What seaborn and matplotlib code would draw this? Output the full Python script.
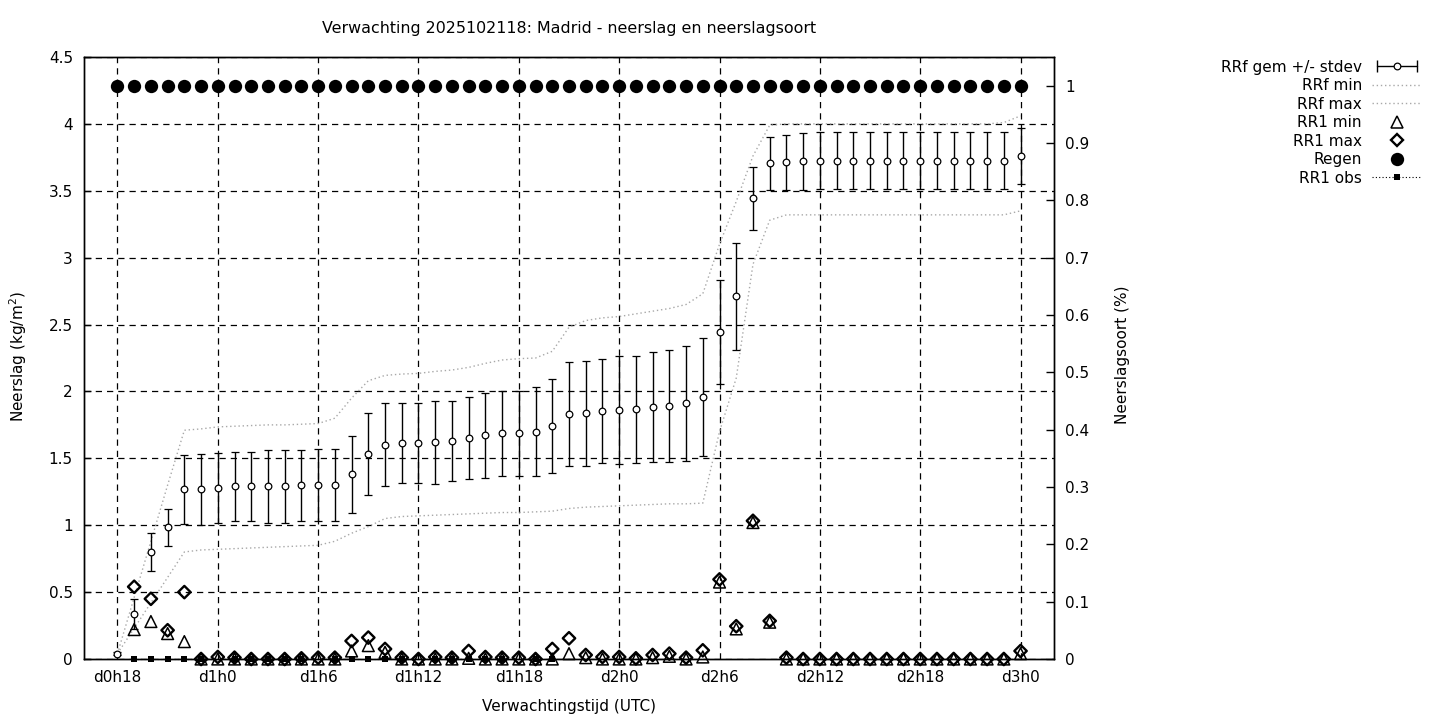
import matplotlib
matplotlib.use('Agg')
import matplotlib.pyplot as plt
from matplotlib.lines import Line2D
from matplotlib.legend_handler import HandlerLine2D, HandlerTuple
import numpy as np
import pandas as pd
import seaborn as sns

nan = np.nan

# forecast hours, d0h18 .. d3h0
hours = list(range(18, 73))

# ensemble mean and stdev of accumulated precipitation (kg/m2)
rrf_mean = [0.04, 0.336, 0.80, 0.984, 1.268, 1.268, 1.278, 1.29, 1.29, 1.29,
            1.29, 1.298, 1.298, 1.30, 1.38, 1.532, 1.60, 1.612, 1.612, 1.62,
            1.627, 1.652, 1.672, 1.687, 1.687, 1.70, 1.741, 1.829, 1.836, 1.853,
            1.861, 1.868, 1.883, 1.891, 1.911, 1.958, 2.442, 2.713, 3.443, 3.704,
            3.712, 3.722, 3.725, 3.725, 3.725, 3.725, 3.725, 3.725, 3.725, 3.725,
            3.725, 3.725, 3.725, 3.725, 3.76]
rrf_std = [0.01, 0.11, 0.143, 0.137, 0.26, 0.265, 0.26, 0.257, 0.257, 0.27,
           0.27, 0.268, 0.27, 0.268, 0.29, 0.309, 0.31, 0.30, 0.30, 0.31,
           0.30, 0.31, 0.318, 0.32, 0.32, 0.33, 0.35, 0.388, 0.39, 0.39,
           0.404, 0.40, 0.41, 0.418, 0.43, 0.44, 0.39, 0.40, 0.237, 0.20,
           0.203, 0.213, 0.213, 0.213, 0.213, 0.213, 0.213, 0.213, 0.213, 0.213,
           0.213, 0.213, 0.213, 0.213, 0.21]

# ensemble min / max of accumulated precipitation
rrf_min = [0.04, 0.23, 0.42, 0.61, 0.80, 0.815, 0.82, 0.825, 0.83, 0.835,
           0.84, 0.845, 0.85, 0.88, 0.94, 0.99, 1.05, 1.065, 1.07, 1.075,
           1.08, 1.085, 1.09, 1.095, 1.095, 1.10, 1.105, 1.125, 1.135, 1.14,
           1.145, 1.15, 1.155, 1.16, 1.16, 1.165, 1.70, 2.10, 2.95, 3.28,
           3.32, 3.32, 3.32, 3.32, 3.32, 3.32, 3.32, 3.32, 3.32, 3.32,
           3.32, 3.32, 3.32, 3.32, 3.35]
rrf_max = [0.04, 0.46, 0.88, 1.30, 1.71, 1.72, 1.735, 1.74, 1.745, 1.75,
           1.75, 1.755, 1.76, 1.80, 1.95, 2.08, 2.12, 2.13, 2.135, 2.15,
           2.16, 2.18, 2.21, 2.235, 2.245, 2.25, 2.30, 2.48, 2.53, 2.55,
           2.56, 2.58, 2.60, 2.62, 2.65, 2.73, 3.10, 3.42, 3.76, 3.99,
           4.0, 4.0, 4.0, 4.0, 4.0, 4.0, 4.0, 4.0, 4.0, 4.0,
           4.0, 4.0, 4.0, 4.01, 4.06]

# hourly precipitation min / max over the ensemble
rr1_min = [nan, 0.22, 0.28, 0.19, 0.13, 0.0, 0.0, 0.0, 0.0, 0.0,
           0.0, 0.0, 0.0, 0.0, 0.06, 0.10, 0.05, 0.0, 0.0, 0.0,
           0.0, 0.005, 0.0, 0.0, 0.0, 0.0, 0.0, 0.04, 0.01, 0.0,
           0.0, 0.0, 0.01, 0.02, 0.0, 0.015, 0.575, 0.225, 1.02, 0.275,
           0.0, 0.0, 0.0, 0.0, 0.0, 0.0, 0.0, 0.0, 0.0, 0.0,
           0.0, 0.0, 0.0, 0.0, 0.04]
rr1_max = [nan, 0.54, 0.45, 0.215, 0.50, 0.0, 0.015, 0.01, 0.0, 0.0,
           0.0, 0.005, 0.01, 0.01, 0.135, 0.16, 0.075, 0.01, 0.0, 0.015,
           0.01, 0.06, 0.015, 0.01, 0.01, 0.0, 0.075, 0.155, 0.03, 0.015,
           0.015, 0.005, 0.03, 0.04, 0.01, 0.065, 0.595, 0.245, 1.033, 0.285,
           0.01, 0.0, 0.0, 0.0, 0.0, 0.0, 0.0, 0.0, 0.0, 0.0,
           0.0, 0.0, 0.0, 0.0, 0.06]

# precipitation type fraction (right axis)
regen = [1, 1, 1, 1, 1, 1, 1, 1, 1, 1,
         1, 1, 1, 1, 1, 1, 1, 1, 1, 1,
         1, 1, 1, 1, 1, 1, 1, 1, 1, 1,
         1, 1, 1, 1, 1, 1, 1, 1, 1, 1,
         1, 1, 1, 1, 1, 1, 1, 1, 1, 1,
         1, 1, 1, 1, 1]

# observed hourly precipitation
rr1_obs = [nan, 0, 0, 0, 0, 0, nan, 0, 0, 0,
           0, 0, nan, 0, 0, 0, 0, 0, nan, 0,
           0, 0, 0, 0, nan, 0, 0, nan, nan, nan,
           nan, nan, nan, nan, nan, nan, nan, nan, nan, nan,
           nan, nan, nan, nan, nan, nan, nan, nan, nan, nan,
           nan, nan, nan, nan, nan]

tick_hours = [18, 24, 30, 36, 42, 48, 54, 60, 66, 72]
tick_labels = ['d%dh%d' % (h // 24, h % 24) for h in tick_hours]
y_ticks = [0, 0.5, 1, 1.5, 2, 2.5, 3, 3.5, 4, 4.5]
y2_ticks = [0, 0.1, 0.2, 0.3, 0.4, 0.5, 0.6, 0.7, 0.8, 0.9, 1]

df = pd.DataFrame({'hour': hours, 'mean': rrf_mean, 'std': rrf_std,
                   'min': rrf_min, 'max': rrf_max, 'rr1min': rr1_min,
                   'rr1max': rr1_max, 'regen': regen, 'obs': rr1_obs})

sns.set_style('white')
plt.rcParams['font.family'] = ['DejaVu Sans']
plt.rcParams['font.size'] = 11
plt.rcParams['text.color'] = 'black'
plt.rcParams['axes.labelcolor'] = 'black'
plt.rcParams['xtick.color'] = 'black'
plt.rcParams['ytick.color'] = 'black'

fig = plt.figure(figsize=(14.4, 7.2), dpi=100)
ax = fig.add_axes([84 / 1440, 61 / 720, 970 / 1440, 602 / 720])
ax2 = ax.twinx()

grey = '#a8a8a8'
dots = (0, (1, 2))

# ensemble min / max envelopes
sns.lineplot(data=df, x='hour', y='min', ax=ax, color=grey, linestyle=dots, linewidth=1, zorder=2)
sns.lineplot(data=df, x='hour', y='max', ax=ax, color=grey, linestyle=dots, linewidth=1, zorder=2)

# mean +/- stdev
ax.errorbar(df['hour'], df['mean'], yerr=df['std'], fmt='o', ms=4.8, mfc='white', mec='black',
            mew=0.9, ecolor='black', elinewidth=1, capsize=3, capthick=1, zorder=4)

# hourly min / max
sns.scatterplot(data=df, x='hour', y='rr1min', ax=ax, marker='^', s=72, facecolor='none',
                edgecolor='black', linewidth=1.1, zorder=5, clip_on=False)
sns.scatterplot(data=df, x='hour', y='rr1max', ax=ax, marker='D', s=40, facecolor='none',
                edgecolor='black', linewidth=1.7, zorder=6, clip_on=False)

# observations
sns.lineplot(data=df, x='hour', y='obs', ax=ax, color='black', linestyle=dots, linewidth=0.8,
             marker='s', markersize=4.8, markeredgewidth=0, zorder=3, clip_on=False)

# precipitation type on second axis
sns.scatterplot(data=df, x='hour', y='regen', ax=ax2, color='black', s=92, linewidth=0, zorder=5)

ax.set_xlim(16, 74)
ax.set_ylim(0, 4.5)
ax2.set_ylim(0, 1.05)
ax.set_xticks(tick_hours)
ax.set_xticklabels(tick_labels)
ax.set_yticks(y_ticks)
ax.set_yticklabels(['%g' % v for v in y_ticks])
ax2.set_yticks(y2_ticks)
ax2.set_yticklabels(['%g' % v for v in y2_ticks])
ax.set_xlabel('')
ax.set_ylabel('')
ax2.set_ylabel('')

ax.grid(True, color='black', linestyle=(0, (5, 4)), linewidth=0.9)
ax.set_axisbelow(True)
for a in (ax, ax2):
    for s in a.spines.values():
        s.set_color('black')
        s.set_linewidth(1)
ax.tick_params(axis='both', direction='in', length=5, width=1, labelsize=11, pad=8, colors='black')
ax.tick_params(axis='y', right=False)
ax2.tick_params(axis='y', direction='in', length=6, width=1, labelsize=11, pad=8, colors='black')

fig.text(569 / 1440, 1 - 29 / 720, 'Verwachting 2025102118: Madrid - neerslag en neerslagsoort',
         ha='center', va='center', fontsize=11.4)
fig.text(569 / 1440, 1 - 706 / 720, 'Verwachtingstijd (UTC)', ha='center', va='center', fontsize=11)
fig.text(18 / 1440, 1 - 357 / 720, 'Neerslag (kg/m$^2$)', ha='center', va='center',
         rotation=90, fontsize=11)
fig.text(1123 / 1440, 1 - 355 / 720, 'Neerslagsoort (%)', ha='center', va='center',
         rotation=90, fontsize=11)

# legend, gnuplot style: text left, sample right
cap_line = Line2D([], [], color='black', lw=1, marker='|', ms=8, mew=1)
mean_pt = Line2D([], [], ls='none', marker='o', ms=4.8, mfc='white', mec='black', mew=0.9)
handles = [
    (cap_line, mean_pt),
    Line2D([], [], color=grey, lw=1, ls=dots),
    Line2D([], [], color=grey, lw=1, ls=dots),
    Line2D([], [], ls='none', marker='^', ms=8.5, mfc='none', mec='black', mew=1.1),
    Line2D([], [], ls='none', marker='D', ms=6.3, mfc='none', mec='black', mew=1.7),
    Line2D([], [], ls='none', marker='o', ms=9.6, mfc='black', mec='black', mew=0),
    Line2D([], [], color='black', lw=0.8, ls=dots, marker='s', ms=4.8, mew=0),
]
labels = ['RRf gem +/- stdev', 'RRf min', 'RRf max', 'RR1 min', 'RR1 max', 'Regen', 'RR1 obs']
fig.legend(handles, labels, loc='upper right', bbox_to_anchor=(1429 / 1440, 1 - 52 / 720),
           frameon=False, markerfirst=False, borderpad=0, handlelength=3.2, handletextpad=0.7,
           labelspacing=0.23, fontsize=11,
           handler_map={tuple: HandlerTuple(ndivide=1, pad=0), cap_line: HandlerLine2D(numpoints=2)})

fig.savefig('out.png', dpi=100)
